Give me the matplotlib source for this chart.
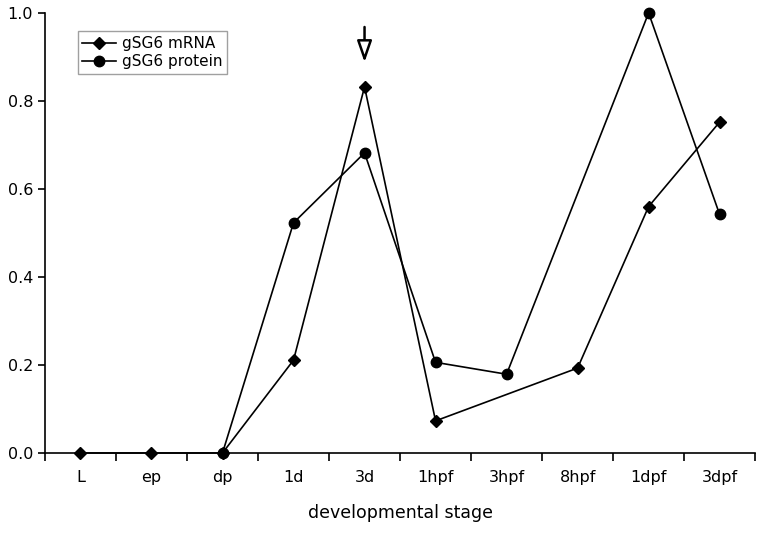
import numpy as np
import matplotlib
matplotlib.use("Agg")
import matplotlib.pyplot as plt

# developmental stages on the x axis
stages = ["L", "ep", "dp", "1d", "3d", "1hpf", "3hpf", "8hpf", "1dpf", "3dpf"]

# relative levels (nan = not measured)
mrna = [0.0, 0.0, 0.0, 0.211, 0.832, 0.073, np.nan, 0.193, 0.560, 0.752]
protein = [np.nan, np.nan, 0.0, 0.523, 0.682, 0.206, 0.179, np.nan, 1.0, 0.542]

fig = plt.figure(figsize=(7.62, 5.38), dpi=100)
ax = fig.add_axes([0.059, 0.158, 0.932, 0.818])

x = np.arange(len(stages))
m = np.array(mrna)
p = np.array(protein)
ok_m = np.isfinite(m)
ok_p = np.isfinite(p)

ax.plot(x[ok_m], m[ok_m], color="black", lw=1.2, marker="D", ms=6.5,
        label="gSG6 mRNA", clip_on=False)
ax.plot(x[ok_p], p[ok_p], color="black", lw=1.2, marker="o", ms=7.5,
        label="gSG6 protein", clip_on=False)

# arrow over the 3d peak
ax.annotate("", xy=(4, 0.888), xytext=(4, 0.968),
            arrowprops=dict(arrowstyle="-|>,head_width=0.45,head_length=1.3",
                            fc="white", ec="black", lw=1.8, shrinkA=0, shrinkB=0))

ax.set_xlim(-0.5, len(stages) - 0.5)
ax.set_ylim(0, 1.0)
ax.set_xticks(np.arange(len(stages) + 1) - 0.5)
ax.set_xticklabels([])
ax.set_xticks(x, minor=True)
ax.set_xticklabels(stages, minor=True)
ax.tick_params(axis="x", which="minor", length=0, pad=12, labelsize=11.5)
ax.tick_params(axis="x", which="major", length=6, width=1.2, direction="out")
ax.set_yticks([0.0, 0.2, 0.4, 0.6, 0.8, 1.0])
ax.set_yticklabels(["0.0", "0.2", "0.4", "0.6", "0.8", "1.0"])
ax.tick_params(axis="y", length=5, width=1.2, direction="out", labelsize=11.5)

ax.spines["top"].set_visible(False)
ax.spines["right"].set_visible(False)
ax.spines["left"].set_linewidth(1.2)
ax.spines["bottom"].set_linewidth(1.2)

ax.set_xlabel("developmental stage", fontsize=12.5, labelpad=14)

leg = ax.legend(loc="upper left", bbox_to_anchor=(0.046, 0.958), fontsize=11,
                frameon=True, fancybox=False, edgecolor="#888888",
                handlelength=2.2, borderpad=0.3, labelspacing=0.2,
                handletextpad=0.4, borderaxespad=0)
leg.get_frame().set_linewidth(1.0)

fig.savefig("out.png", dpi=100)
